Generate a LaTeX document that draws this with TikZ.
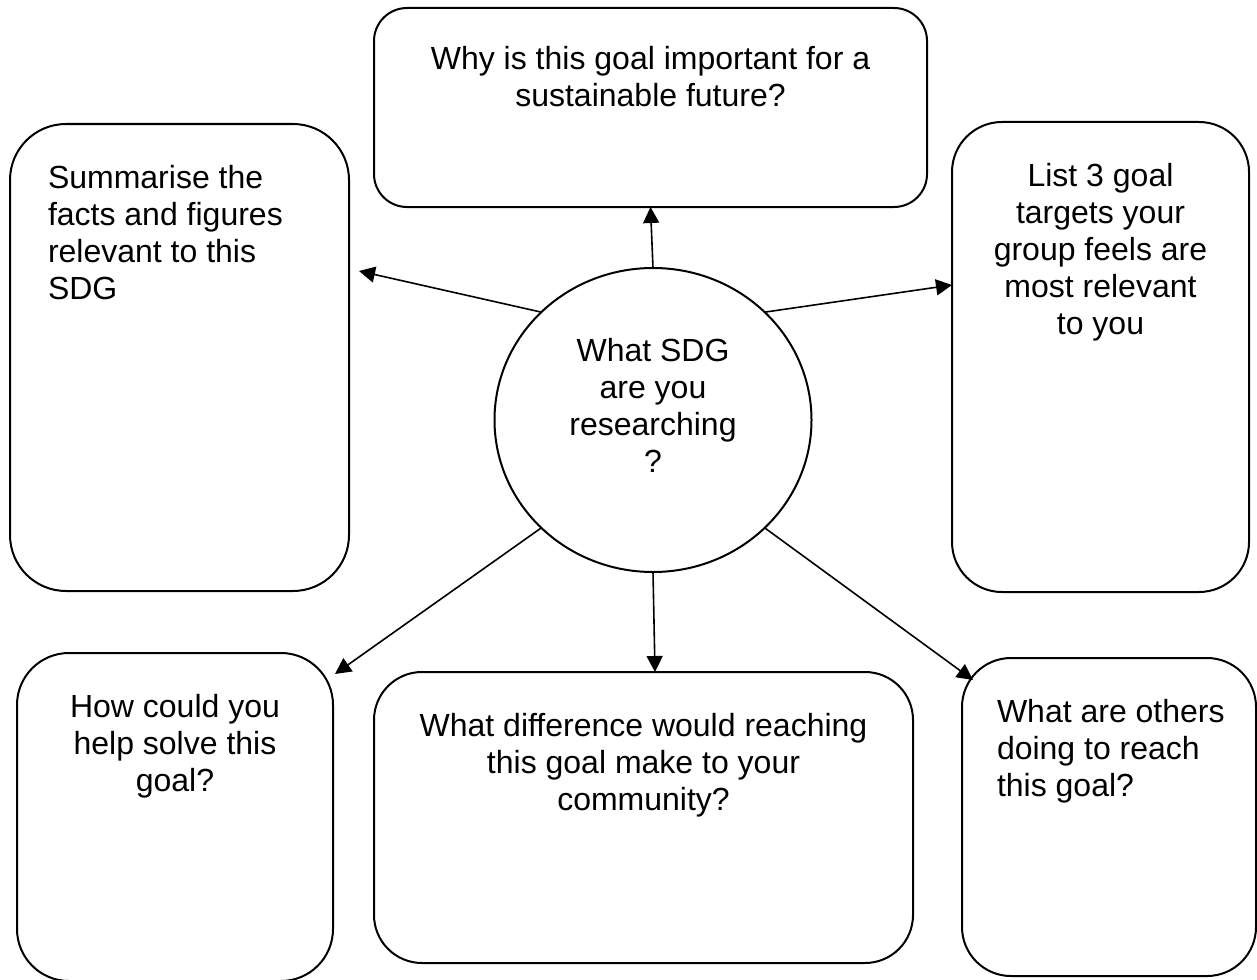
\documentclass[tikz,border=0pt]{standalone}
\usepackage{fontspec}
\setmainfont{Liberation Sans}
\usetikzlibrary{arrows.meta,shapes.geometric}
\begin{document}
\begin{tikzpicture}[x=0.5pt,y=-0.5pt,
  qbox/.style={draw=black, line width=1pt, inner sep=0pt, outer sep=0pt},
  qtext/.style={font=\fontsize{16}{18.5}\selectfont, inner sep=0pt, outer sep=0pt},
  link/.style={line width=0.8pt, -{Triangle[length=8pt,width=8pt]}}]
\fill[white] (0,0) rectangle (1257,979);
\useasboundingbox (0,0) rectangle (1257,979);

% boxes
\node[qbox, rounded corners=16.5pt, minimum width=276.5pt, minimum height=99.5pt] (top) at (650.5,107.5) {};
\node[qbox, rounded corners=28pt, minimum width=169.5pt, minimum height=233.5pt] (left) at (179.5,357.5) {};
\node[qbox, rounded corners=25pt, minimum width=148.5pt, minimum height=235pt] (right) at (1100.5,357) {};
\node[qbox, rounded corners=26pt, minimum width=158pt, minimum height=164pt] (bl) at (175,817) {};
\node[qbox, rounded corners=24pt, minimum width=269.5pt, minimum height=145.5pt] (bm) at (643.5,817.5) {};
\node[qbox, rounded corners=24.5pt, minimum width=147pt, minimum height=159pt] (br) at (1109,817) {};
\node[qbox, ellipse, minimum width=158.5pt, minimum height=152pt] (c) at (653,420) {};

% texts
\node[qtext, anchor=north, align=center, yshift=-18pt] (ttop) at (top.north)
  {\strut Why is this goal important for a\\ sustainable future?};
\node[qtext, anchor=north west, align=left, xshift=19pt, yshift=-19.5pt] (tleft) at (left.north west)
  {\strut Summarise the\\ facts and figures\\ relevant to this\\ SDG};
\node[qtext, anchor=north, align=center, yshift=-19.5pt] (tright) at (right.north)
  {\strut List 3 goal\\ targets your\\ group feels are\\ most relevant\\ to you};
\node[qtext, anchor=north, align=center, yshift=-19.5pt] (tbl) at (bl.north)
  {\strut How could you\\ help solve this\\ goal?};
\node[qtext, anchor=north, align=center, yshift=-19.5pt] (tbm) at (bm.north)
  {\strut What difference would reaching\\ this goal make to your\\ community?};
\node[qtext, anchor=north west, align=left, xshift=17.5pt, yshift=-19.5pt] (tbr) at (br.north west)
  {\strut What are others\\ doing to reach\\ this goal?};
\node[qtext, anchor=north, align=center, yshift=-34pt] (tc) at (c.north)
  {\strut What SDG\\ are you\\ researching\\ ?};

% arrow tips
\coordinate (tL) at (359,271);
\coordinate (tR) at (952,285);
\coordinate (tLL) at (335,674);
\coordinate (tD) at (655,672);
\coordinate (tLR) at (973,680);

% connectors
\draw[link] (c.north) -- (top.south);
\draw[link] (c.136) -- (tL);
\draw[link] (c.44) -- (tR);
\draw[link] (c.224) -- (tLL);
\draw[link] (c.south) -- (tD);
\draw[link] (c.316) -- (tLR);
\end{tikzpicture}
\end{document}
